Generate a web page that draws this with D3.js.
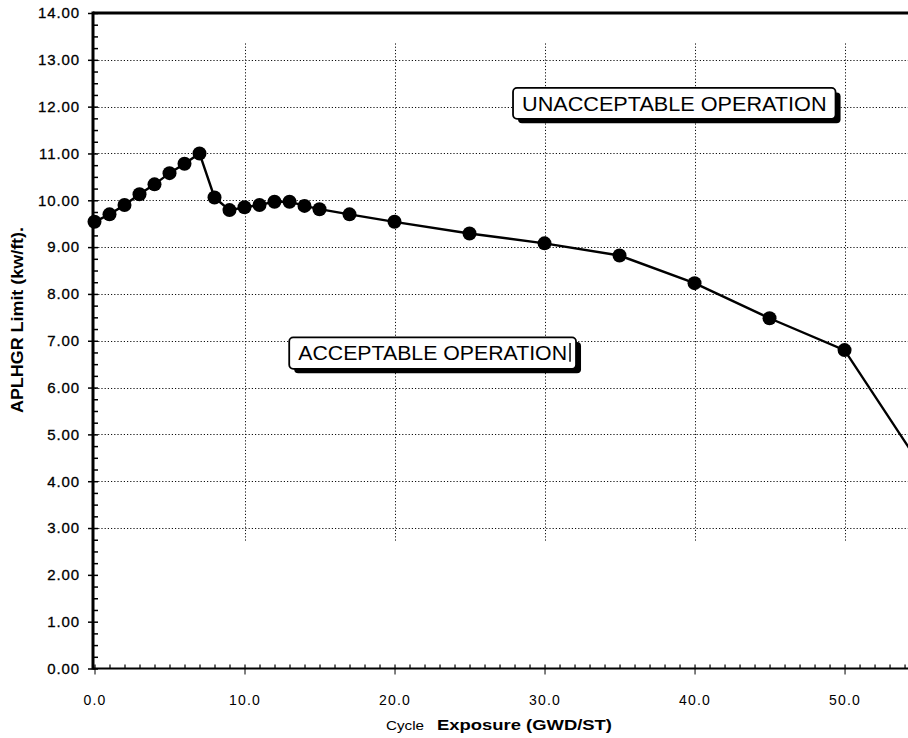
<!DOCTYPE html>
<html>
<head>
<meta charset="utf-8">
<script src="https://cdn.jsdelivr.net/npm/d3@7"></script>
<style>
  html, body { margin: 0; padding: 0; background: #fff; }
  svg { display: block; }
  text { font-family: "Liberation Sans", Arial, sans-serif; fill: #000; }
</style>
</head>
<body>
<svg id="chart" width="908" height="738"></svg>
<script>
// Cycle exposure (GWD/ST) and APLHGR limit (kw/ft)
const exposure = [0, 1, 2, 3, 4, 5, 6, 7, 8, 9, 10, 11, 12, 13, 14, 15, 17, 20, 25, 30, 35, 40, 45, 50, 55];
const aplhgr   = [9.54, 9.70, 9.90, 10.13, 10.34, 10.58, 10.78, 11.00, 10.06, 9.79, 9.85, 9.90, 9.97, 9.97,
                  9.88, 9.81, 9.70, 9.54, 9.29, 9.08, 8.82, 8.23, 7.48, 6.80, 4.37];

const xTicks = [0, 10, 20, 30, 40, 50];
const yTicks = [0, 1, 2, 3, 4, 5, 6, 7, 8, 9, 10, 11, 12, 13, 14];
const gridY = [3, 4, 5, 6, 7, 8, 9, 10, 11, 12, 13];
const gridX = [10, 20, 30, 40, 50];

const xTitlePrefix = "Cycle";
const xTitle = "Exposure (GWD/ST)";
const yTitle = "APLHGR Limit (kw/ft).";
const regionLabels = ["UNACCEPTABLE OPERATION", "ACCEPTABLE OPERATION"];

const svg = d3.select("#chart");
const W = 908;

const x = d3.scaleLinear().domain([0, 54.23]).range([94.5, 908]);
const y = d3.scaleLinear().domain([0, 14]).range([668.5, 13]);
const axisX = 93;

svg.append("defs").append("clipPath").attr("id", "plot")
  .append("rect").attr("x", 0).attr("y", 0).attr("width", W).attr("height", 738);

// dotted grid
const grid = svg.append("g").attr("stroke", "#111").attr("stroke-width", 1)
  .attr("stroke-dasharray", "1.2,2");
grid.selectAll("line.h").data(gridY).join("line").attr("class", "h")
  .attr("x1", axisX + 2).attr("x2", W)
  .attr("y1", d => Math.round(y(d)) + 0.5).attr("y2", d => Math.round(y(d)) + 0.5);
grid.selectAll("line.v").data(gridX).join("line").attr("class", "v")
  .attr("y1", y(13.35)).attr("y2", y(2.7))
  .attr("x1", d => Math.round(x(d)) + 0.5).attr("x2", d => Math.round(x(d)) + 0.5);

// left axis: major ticks with labels, minor quarter ticks inside
const yFmt = d3.format(".2f");
const yAxis = svg.append("g").attr("transform", `translate(${axisX},0)`)
  .call(d3.axisLeft(y).tickValues(yTicks).tickSize(5).tickPadding(8).tickFormat(yFmt));
yAxis.select(".domain").remove();
yAxis.selectAll("line").attr("stroke", "#000").attr("stroke-width", 1.5);
yAxis.selectAll("text").attr("font-size", 15).attr("letter-spacing", "0.9px")
  .attr("font-family", "Liberation Sans, Arial, sans-serif")
  .attr("stroke", "#000").attr("stroke-width", 0.3);

const minorY = d3.range(0, 14.001, 0.25);
const yMinor = svg.append("g").attr("transform", `translate(${axisX},0)`)
  .call(d3.axisRight(y).tickValues(minorY).tickSize(5).tickFormat(""));
yMinor.select(".domain").remove();
yMinor.selectAll("line").attr("stroke", "#000").attr("stroke-width", 1.5);

// bottom axis
const xFmt = d3.format(".1f");
const xAxis = svg.append("g").attr("transform", `translate(0,${y(0)})`)
  .call(d3.axisBottom(x).tickValues(xTicks).tickSize(6).tickPadding(21).tickFormat(xFmt));
xAxis.select(".domain").remove();
xAxis.selectAll("line").attr("stroke", "#000").attr("stroke-width", 1);
xAxis.selectAll("text").attr("font-size", 14).attr("letter-spacing", "1.2px")
  .attr("font-family", "Liberation Sans, Arial, sans-serif");

const minorX = d3.range(0, 55, 1);
const xMinor = svg.append("g").attr("transform", `translate(0,${y(0)})`)
  .call(d3.axisTop(x).tickValues(minorX).tickSize(4).tickFormat(""));
xMinor.select(".domain").remove();
xMinor.selectAll("line").attr("stroke", "#000").attr("stroke-width", 1.2);

// frame lines
svg.append("line").attr("x1", axisX).attr("x2", W).attr("y1", y(0)).attr("y2", y(0))
  .attr("stroke", "#000").attr("stroke-width", 2.2);
svg.append("line").attr("x1", axisX).attr("x2", W).attr("y1", y(14)).attr("y2", y(14))
  .attr("stroke", "#000").attr("stroke-width", 3);
svg.append("line").attr("x1", axisX).attr("x2", axisX).attr("y1", y(14) - 1.5).attr("y2", y(0) + 1)
  .attr("stroke", "#000").attr("stroke-width", 3);

// region labels in boxes with drop shadow
function labelBox(text, x0, x1, yTop, yBot, fontSize) {
  const bx = x(x0), bw = x(x1) - x(x0), by = y(yTop), bh = y(yBot) - y(yTop);
  const g = svg.append("g");
  g.append("rect").attr("x", bx + 5).attr("y", by + 4.5).attr("width", bw).attr("height", bh)
    .attr("rx", 4).attr("fill", "#000");
  g.append("rect").attr("x", bx).attr("y", by).attr("width", bw).attr("height", bh)
    .attr("rx", 4).attr("fill", "#fff").attr("stroke", "#000").attr("stroke-width", 1.8);
  g.append("text").attr("x", bx + 9).attr("y", by + bh / 2).attr("dy", "0.36em")
    .attr("font-size", fontSize).attr("textLength", bw - 18).attr("lengthAdjust", "spacingAndGlyphs")
    .text(text);
  return g;
}
labelBox(regionLabels[0], 27.9, 49.4, 12.4, 11.74, 20);
labelBox(regionLabels[1], 12.98, 32.1, 7.07, 6.4, 20);
// caret mark after the lower label
svg.append("line").attr("x1", x(31.7)).attr("x2", x(31.7)).attr("y1", y(6.95)).attr("y2", y(6.55))
  .attr("stroke", "#000").attr("stroke-width", 1.5);

// limit curve and markers
const pts = exposure.map((e, i) => [e, aplhgr[i]]);
const plot = svg.append("g").attr("clip-path", "url(#plot)");
plot.append("path").datum(pts)
  .attr("fill", "none").attr("stroke", "#000").attr("stroke-width", 2.4)
  .attr("d", d3.line().x(d => x(d[0])).y(d => y(d[1])));
plot.selectAll("circle").data(pts).join("circle")
  .attr("cx", d => x(d[0])).attr("cy", d => y(d[1])).attr("r", 7).attr("fill", "#000");

// axis titles
svg.append("text").attr("transform", `translate(23,${320}) rotate(-90)`)
  .attr("text-anchor", "middle").attr("font-size", 16).attr("font-weight", "bold")
  .attr("textLength", 186).attr("lengthAdjust", "spacingAndGlyphs").text(yTitle);
svg.append("text").attr("x", 386).attr("y", 730).attr("font-size", 13)
  .attr("textLength", 38).attr("lengthAdjust", "spacingAndGlyphs").text(xTitlePrefix);
svg.append("text").attr("x", 437).attr("y", 730).attr("font-size", 15).attr("font-weight", "bold")
  .attr("textLength", 175).attr("lengthAdjust", "spacingAndGlyphs").text(xTitle);
</script>
</body>
</html>
